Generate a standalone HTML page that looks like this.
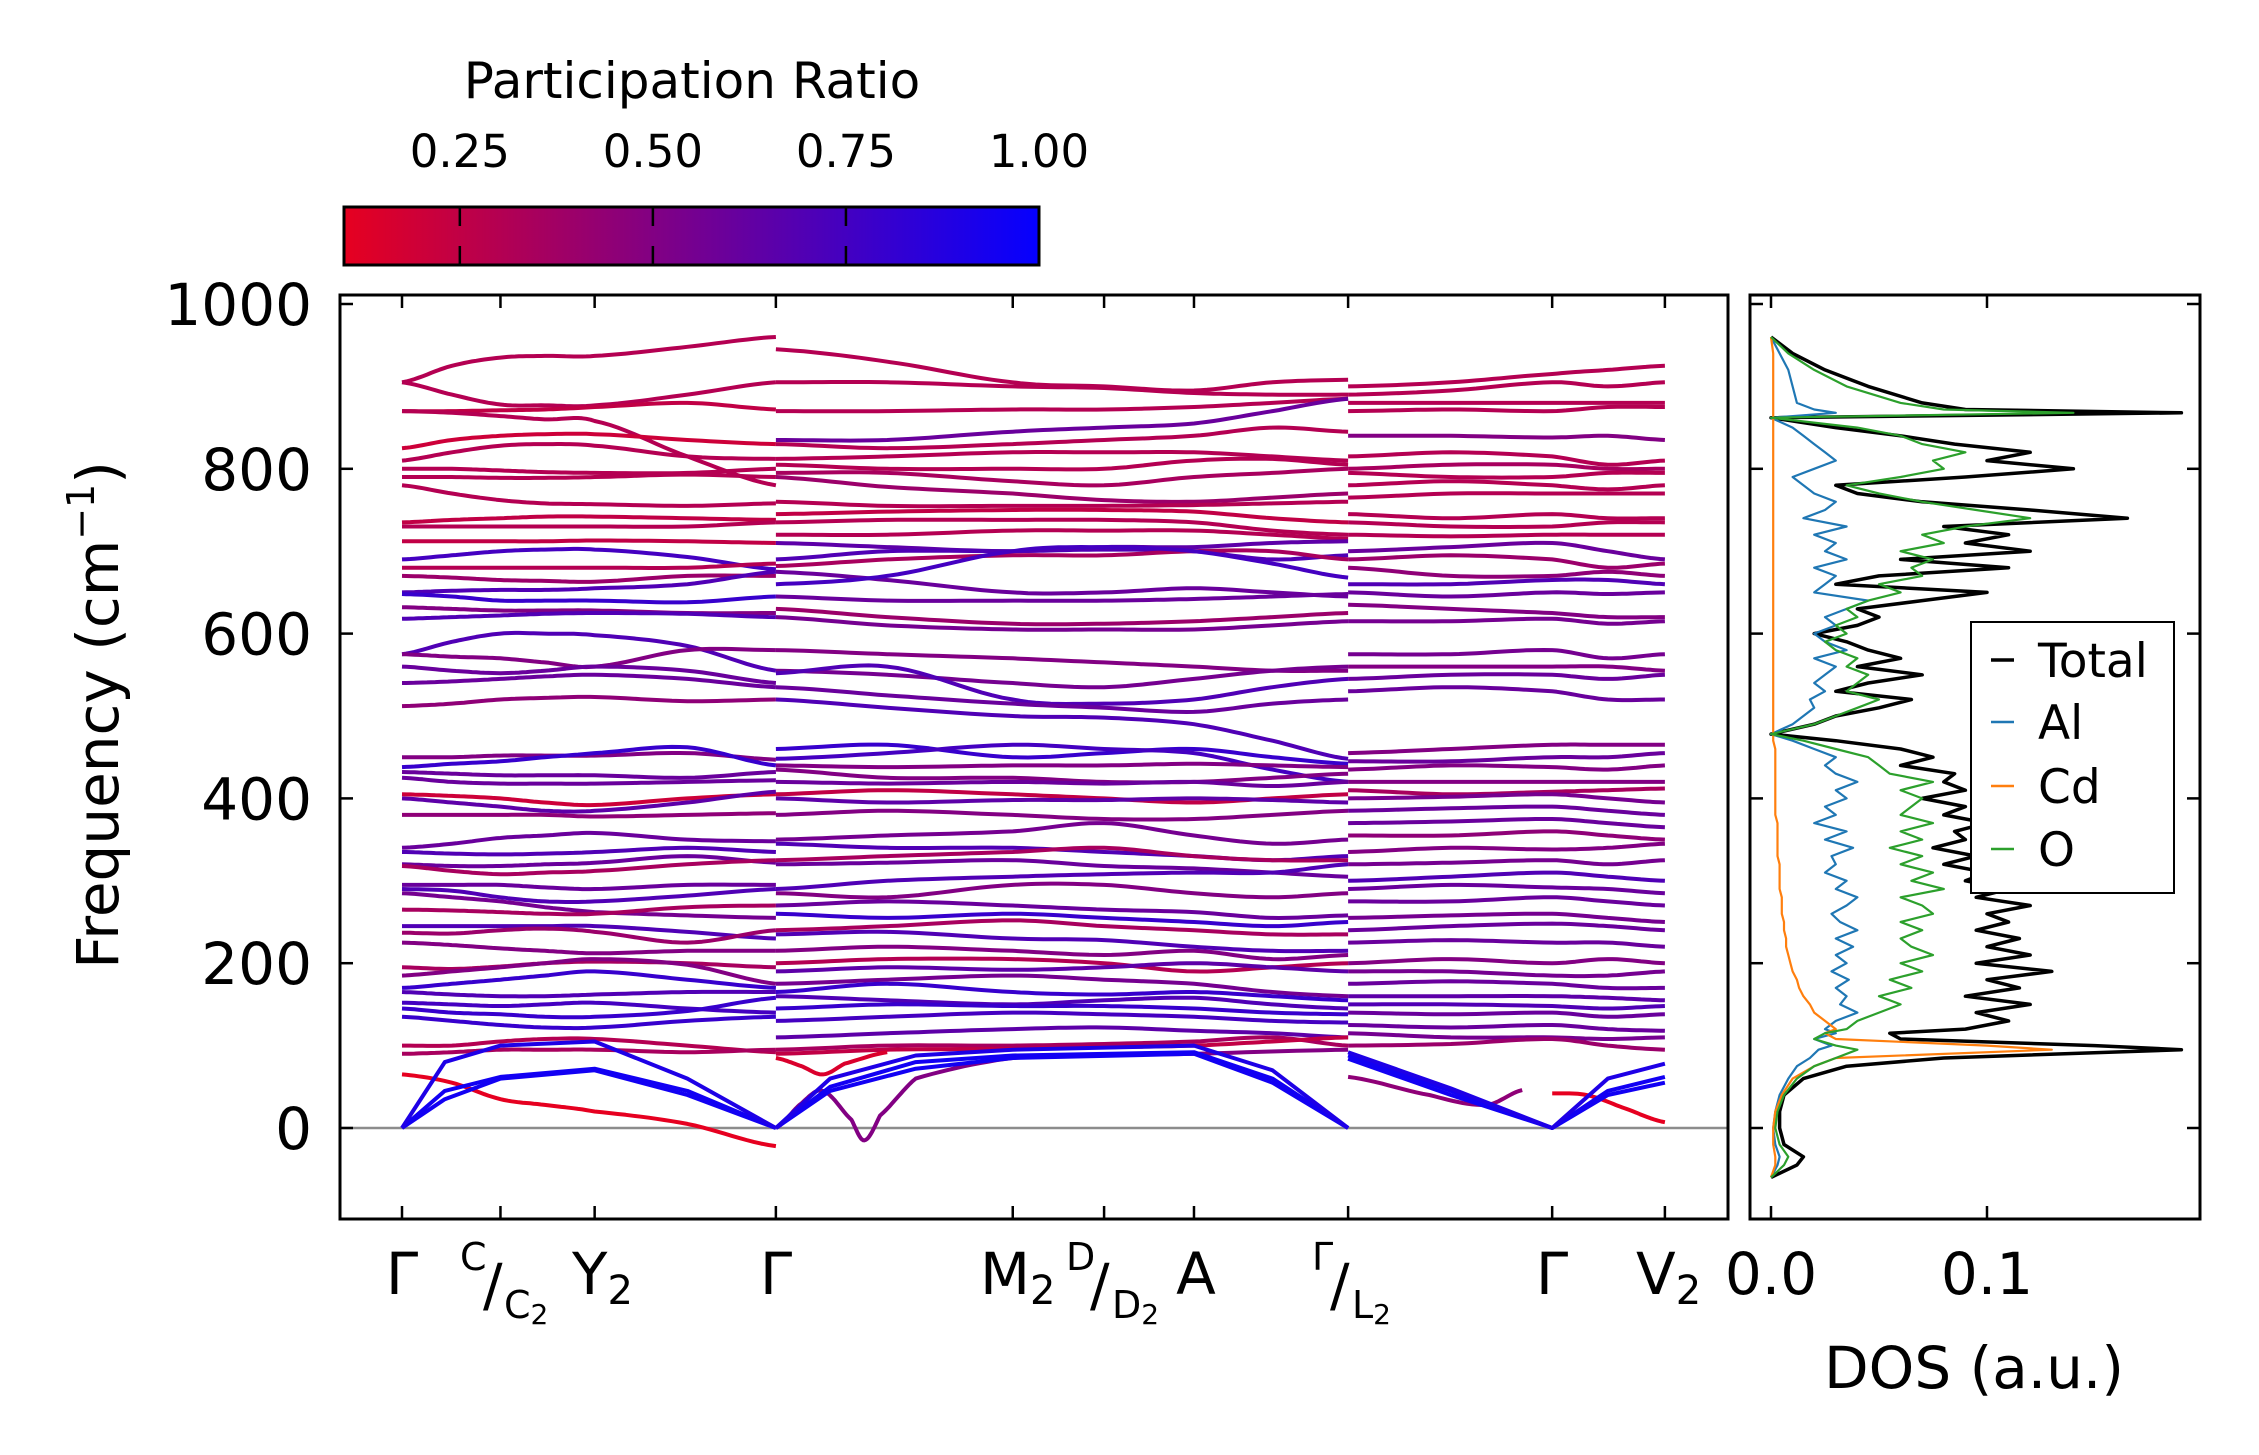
<!DOCTYPE html>
<html><head><meta charset="utf-8">
<style>
html,body{margin:0;padding:0;background:#fff;}
svg{display:block;font-family:"DejaVu Sans","Liberation Sans",sans-serif;}
</style></head>
<body>
<svg id="fig" width="2259" height="1455" viewBox="0 0 2259 1455" xmlns="http://www.w3.org/2000/svg" style="position:absolute;left:0;top:0">
<defs>
<linearGradient id="cbgrad" x1="0" x2="1" y1="0" y2="0">
<stop offset="0" stop-color="rgb(230,0,32)"/>
<stop offset="1" stop-color="rgb(5,0,255)"/>
</linearGradient>
<clipPath id="mainclip"><rect x="340" y="295" width="1388" height="924"/></clipPath>
<clipPath id="dosclip"><rect x="1750" y="295" width="450" height="924"/></clipPath>
</defs>
<rect x="0" y="0" width="2259" height="1455" fill="#fff"/>
<g id="colorbar">
<text x="692" y="98" font-size="50" text-anchor="middle">Participation Ratio</text>
<rect x="344" y="207" width="695" height="58" fill="url(#cbgrad)" stroke="#000" stroke-width="3"/>
</g>
<g id="bands" clip-path="url(#mainclip)"></g>
<g id="dos" clip-path="url(#dosclip)"></g>
<g id="axes"></g>
</svg>
<script>
// ---- colorbar data ----
const cbTicks = [0.25, 0.50, 0.75, 1.00];
const cbLabels = ["0.25", "0.50", "0.75", "1.00"];
// ---- main axis data ----
const yTicks = [0, 200, 400, 600, 800, 1000];
const kTickPos = [0, 0.69, 1.35, 2.62, 4.28, 4.92, 5.55, 6.63, 8.06, 8.85];
const seg1K = [0, 0.35, 0.69, 1.0, 1.35, 2.0, 2.62];
const seg2K = [2.62, 3.4, 4.28, 4.92, 5.55, 6.1, 6.63];
const seg3K = [6.63, 7.35, 8.06, 8.45, 8.85];
const seg1Freq = [
[905,925,935,937,937,948,960],[905,890,878,877,877,890,905],[870,870,871,872,875,880,872],
[870,868,864,860,858,815,780],[825,835,840,842,842,835,830],[810,820,828,830,828,815,812],
[800,800,798,796,795,795,800],[790,790,789,789,790,793,790],[780,770,762,758,757,755,758],
[735,738,740,742,742,740,738],[730,730,730,730,730,730,735],[712,712,712,712,713,712,710],
[690,695,700,702,702,693,678],[680,680,680,680,680,680,685],[670,668,665,664,663,670,670],
[650,652,653,653,655,660,675],[648,645,640,640,640,638,645],[632,630,628,628,628,625,625],
[618,620,622,624,625,624,620],[575,590,600,600,598,585,555],[575,572,570,565,560,580,580],
[560,555,552,555,560,555,540],[540,542,545,548,550,545,535],[512,515,520,522,523,518,520],
[450,450,452,452,452,455,447],[438,442,445,450,455,462,440],[432,430,428,428,428,425,432],
[425,420,418,418,418,420,422],[405,403,400,395,392,400,405],[400,395,390,385,385,395,408],
[380,380,380,380,378,380,382],[340,345,352,355,358,350,348],[335,333,332,333,335,340,335],
[320,318,318,320,322,330,322],[318,312,308,310,312,320,325],[295,295,295,292,290,295,295],
[290,288,280,275,275,282,290],[285,280,275,268,262,258,255],[265,264,262,260,260,268,270],
[245,245,245,245,245,238,230],[237,236,240,242,238,225,240],[225,222,218,215,212,215,215],
[195,193,196,200,202,200,195],[185,190,195,200,205,198,175],[170,175,180,185,190,180,170],
[165,162,160,160,162,165,165],[152,150,148,150,152,145,140],[145,140,138,135,135,142,158],
[135,130,125,122,122,130,135],[100,100,105,108,108,100,92],[90,92,95,95,95,92,95],
[65,55,35,28,20,5,-22]];
const seg1PR = [0.3,0.3,0.25,0.3,0.2,0.3,0.3,0.3,0.3,0.25,0.3,0.25,0.75,0.3,0.4,0.7,0.8,0.5,0.7,0.7,0.5,0.6,0.6,0.45,
0.5,0.8,0.6,0.6,0.2,0.65,0.45,0.6,0.7,0.6,0.35,0.6,0.7,0.55,0.35,0.7,0.4,0.5,0.35,0.5,0.8,0.7,0.75,0.8,0.8,0.3,0.35,0.1];
const seg2Freq = [
[945,930,905,900,895,905,908],[905,905,900,898,892,890,890],[870,870,872,872,875,880,885],
[835,835,845,850,855,870,885],[830,825,830,835,840,850,845],[812,815,820,820,820,815,810],
[805,800,800,800,810,812,805],[795,795,785,780,790,795,800],[790,778,770,762,760,765,770],
[760,755,755,755,756,758,760],[745,748,750,750,748,740,735],[735,738,738,738,735,725,720],
[720,720,725,725,725,720,715],[710,705,700,705,705,710,712],[690,700,700,702,700,690,695],
[682,690,695,695,700,700,690],[675,665,650,650,655,650,645],[660,670,700,705,700,685,668],
[645,640,640,640,642,645,648],[630,620,612,612,615,620,625],[620,610,605,605,605,610,615],
[580,575,570,565,560,555,555],[555,550,540,535,545,555,560],[552,560,520,515,520,535,545],
[535,525,515,510,505,515,520],[520,510,500,498,490,470,448],[460,465,450,455,460,450,442],
[448,455,465,460,455,435,420],[440,438,440,440,442,440,438],[435,425,425,420,420,425,430],
[420,418,420,418,420,415,420],[405,410,405,400,395,400,405],[400,395,398,398,400,398,395],
[380,385,380,375,375,380,385],[350,355,360,370,355,345,350],[345,340,340,335,330,325,330],
[325,330,335,340,330,325,325],[320,322,325,318,315,310,305],[290,300,305,308,310,310,320],
[285,280,295,295,285,280,285],[270,275,270,265,262,255,258],[260,255,260,255,250,245,250],
[240,245,252,245,240,235,235],[235,238,230,228,220,215,215],[215,220,215,210,215,205,210],
[200,205,205,200,190,195,200],[190,195,192,195,200,195,190],[175,180,185,180,175,165,160],
[165,175,165,162,165,160,155],[160,155,150,155,158,150,145],[145,150,148,148,145,140,138],
[130,135,140,138,135,130,128],[110,115,120,122,118,115,110],[95,100,100,102,105,110,100],
[90,95,96,98,100,105,110]];
const seg2PR = [0.3,0.3,0.3,0.6,0.3,0.3,0.3,0.35,0.4,0.3,0.25,0.3,0.3,0.65,0.7,0.35,0.6,0.75,0.6,0.4,0.55,0.5,0.55,0.7,
0.6,0.7,0.8,0.75,0.5,0.5,0.6,0.25,0.65,0.5,0.55,0.7,0.35,0.6,0.7,0.5,0.6,0.8,0.35,0.7,0.5,0.3,0.65,0.55,0.8,0.7,0.8,0.75,0.65,0.35,0.25];
const seg3Freq = [
[900,905,915,920,925],[890,895,905,900,905],[880,880,880,880,880],[870,872,870,875,875],
[840,840,838,840,835],[815,820,815,805,810],[800,805,805,800,800],[795,790,790,795,795],
[780,785,780,775,780],[765,770,770,770,770],[745,740,745,740,740],[735,730,730,735,735],
[720,718,720,720,720],[700,705,710,700,690],[690,695,690,680,685],[680,670,670,675,670],
[660,660,665,665,660],[650,645,650,648,650],[635,630,625,620,620],[615,615,618,612,615],
[575,575,580,570,575],[560,560,560,560,555],[545,550,550,545,550],[530,535,530,520,520],
[455,460,465,465,465],[445,445,450,450,455],[435,440,438,435,440],[420,420,420,420,420],
[410,405,408,410,412],[400,402,405,400,395],[385,388,390,385,380],[370,372,375,370,365],
[355,355,360,355,350],[335,340,338,340,345],[320,322,325,320,325],[300,305,310,305,300],
[290,295,292,290,285],[275,275,280,275,270],[255,258,260,255,250],[240,245,248,245,240],
[225,228,225,225,220],[200,205,200,205,200],[190,190,185,185,190],[175,178,175,170,170],
[160,160,160,158,155],[150,150,148,145,148],[140,138,140,135,138],[125,122,125,120,118],
[115,110,110,108,110],[100,102,108,100,95]];
const seg3PR = [0.3,0.3,0.3,0.3,0.5,0.3,0.35,0.3,0.3,0.3,0.3,0.3,0.3,0.6,0.4,0.45,0.7,0.6,0.5,0.55,0.55,0.5,0.6,0.6,
0.5,0.6,0.5,0.5,0.35,0.55,0.6,0.6,0.45,0.5,0.55,0.7,0.6,0.6,0.55,0.6,0.6,0.5,0.55,0.6,0.65,0.7,0.6,0.6,0.55,0.4];
// acoustic branches (near-linear, drawn with straight segments)
const ac1K = [0, 0.3, 0.69, 1.35, 2.0, 2.62];
const ac1Freq = [[0,45,62,72,45,0],[0,35,60,70,40,0],[0,80,100,105,60,0]];
const ac2K = [2.62, 3.0, 3.6, 4.28, 5.55, 6.1, 6.63];
const ac2Freq = [[0,50,80,88,92,60,0],[0,45,72,85,90,55,0],[0,60,88,95,100,70,0]];
const ac3K = [6.63, 7.35, 8.06, 8.45, 8.85];
const ac3Freq = [[88,45,0,45,62],[84,40,0,40,55],[92,48,0,60,78]];
const acPR = [0.95, 0.95, 0.9];
// special bands with their own k knots
const dipK = [2.62,2.8,2.95,3.15,3.24,3.35,3.6,4.28,5.55,6.63];
const dipFreq = [0,30,45,10,-15,15,60,85,90,95];
const redShortK = [2.62,2.8,2.95,3.1,3.4];
const redShortFreq = [85,75,65,78,92];
const lowLK = [6.63,7.2,7.6,7.85];
const lowLFreq = [62,40,28,46];
const redVK = [8.06,8.3,8.55,8.85];
const redVFreq = [42,40,25,7];
const specialPR = [0.5, 0.15, 0.45, 0.1];
// ---- DOS data ----
const dosFreq = [-60,-45,-35,-20,0,20,40,60,75,85, 95,100,108,115,120,130,140,150,160,170,
180,190,200,210,220,230,240,250,260,270, 280,290,300,310,320,330,340,350,360,370,
380,390,400,410,420,430,440,450,460,470, 478,490,500,510,520,530,540,550,560,570,
580,590,600,610,620,630,640,650,660,670, 680,690,700,710,720,730,740,750,760,770,
780,790,800,810,820,830,840,850,862,868, 872,880,900,920,940,960];
const dosTotal = [0,0.012,0.015,0.006,0.004,0.004,0.006,0.015,0.035,0.08, 0.19,0.15,0.06,0.055,0.09,0.11,0.095,0.12,0.09,0.115,
0.1,0.13,0.095,0.12,0.1,0.115,0.095,0.11,0.1,0.12, 0.095,0.11,0.09,0.1,0.08,0.095,0.075,0.09,0.085,0.1,
0.08,0.09,0.07,0.09,0.08,0.085,0.06,0.075,0.06,0.03, 0.0,0.02,0.03,0.05,0.065,0.03,0.045,0.07,0.04,0.06,
0.045,0.035,0.02,0.04,0.05,0.04,0.07,0.1,0.03,0.05, 0.11,0.06,0.12,0.09,0.11,0.08,0.165,0.12,0.07,0.04,
0.03,0.09,0.14,0.1,0.12,0.085,0.06,0.03,0.0,0.19, 0.09,0.07,0.045,0.025,0.01,0.0];
const dosAl = [0,0.003,0.004,0.002,0.001,0.002,0.004,0.008,0.012,0.018, 0.022,0.028,0.02,0.03,0.025,0.03,0.04,0.032,0.035,0.03,
0.036,0.028,0.035,0.03,0.038,0.03,0.04,0.032,0.028,0.035, 0.04,0.03,0.035,0.025,0.03,0.028,0.038,0.025,0.035,0.02,
0.03,0.025,0.035,0.03,0.04,0.03,0.025,0.03,0.02,0.01, 0.0,0.01,0.015,0.02,0.018,0.025,0.02,0.025,0.03,0.02,
0.035,0.025,0.02,0.03,0.025,0.035,0.045,0.02,0.025,0.03, 0.02,0.035,0.025,0.03,0.02,0.035,0.015,0.025,0.03,0.02,
0.015,0.01,0.02,0.03,0.025,0.02,0.015,0.01,0.0,0.03, 0.02,0.012,0.01,0.008,0.004,0];
const dosCd = [0,0.002,0.002,0.001,0.001,0.002,0.005,0.01,0.02,0.03, 0.13,0.1,0.03,0.025,0.03,0.025,0.02,0.018,0.015,0.013,
0.012,0.01,0.009,0.008,0.007,0.007,0.006,0.006,0.005,0.005, 0.005,0.004,0.004,0.004,0.004,0.003,0.003,0.003,0.003,0.003,
0.002,0.002,0.002,0.002,0.002,0.002,0.002,0.002,0.002,0.001, 0.001,0.001,0.001,0.001,0.001,0.001,0.001,0.001,0.001,0.001,
0.001,0.001,0.001,0.001,0.001,0.001,0.001,0.001,0.001,0.001, 0.001,0.001,0.001,0.001,0.001,0.001,0.001,0.001,0.001,0.001,
0.001,0.001,0.001,0.001,0.001,0.001,0.001,0.001,0.001,0.001, 0.001,0.001,0.001,0.001,0.001,0];
const dosO = [0,0.006,0.008,0.004,0.002,0.003,0.006,0.012,0.02,0.03, 0.04,0.03,0.02,0.025,0.035,0.04,0.05,0.06,0.05,0.065,
0.055,0.07,0.06,0.075,0.065,0.06,0.07,0.06,0.075,0.07, 0.06,0.08,0.065,0.075,0.06,0.07,0.055,0.07,0.06,0.075,
0.06,0.065,0.07,0.06,0.075,0.055,0.05,0.045,0.03,0.015, 0.0,0.02,0.03,0.04,0.05,0.035,0.04,0.045,0.035,0.04,
0.03,0.025,0.035,0.03,0.04,0.035,0.045,0.06,0.05,0.07, 0.065,0.075,0.06,0.08,0.07,0.09,0.12,0.095,0.07,0.05,
0.035,0.06,0.08,0.075,0.09,0.07,0.06,0.04,0.0,0.14, 0.08,0.06,0.035,0.02,0.008,0];
const dosTicks = [0.0, 0.1];
const dosTickLabels = ["0.0", "0.1"];

const NS = "http://www.w3.org/2000/svg";
const yOf = f => 1128 - f * 0.824;
const xOf = k => 402 + k * 142.7;
const dxOf = d => 1771 + d * 2160;
const cbX = v => 344 + (v - 0.1) / 0.9 * 695;
function prColor(p){
  const t = Math.max(0, Math.min(1, (p - 0.1) / 0.9));
  const r = Math.round(230 + (5 - 230) * t), b = Math.round(32 + (255 - 32) * t);
  return `rgb(${r},0,${b})`;
}
function mk(tag, attrs, parent){
  const e = document.createElementNS(NS, tag);
  for (const k in attrs) e.setAttribute(k, attrs[k]);
  parent.appendChild(e); return e;
}
function smoothPath(ks, fs){
  const n = ks.length; let d = `M${xOf(ks[0]).toFixed(1)},${yOf(fs[0]).toFixed(1)}`;
  for (let i = 0; i < n - 1; i++){
    const p0 = fs[Math.max(0, i - 1)], p1 = fs[i], p2 = fs[i + 1], p3 = fs[Math.min(n - 1, i + 2)];
    for (let s = 1; s <= 12; s++){
      const t = s / 12;
      const f = 0.5 * ((2 * p1) + (-p0 + p2) * t + (2 * p0 - 5 * p1 + 4 * p2 - p3) * t * t + (-p0 + 3 * p1 - 3 * p2 + p3) * t * t * t);
      const k = ks[i] + (ks[i + 1] - ks[i]) * t;
      d += ` L${xOf(k).toFixed(1)},${yOf(f).toFixed(1)}`;
    }
  }
  return d;
}
function linePath(ks, fs){
  return ks.map((k, i) => (i ? 'L' : 'M') + xOf(k).toFixed(1) + ',' + yOf(fs[i]).toFixed(1)).join(' ');
}
const bandsG = document.getElementById('bands');
const zl = mk('line', {x1:340, x2:1728, y1:yOf(0), y2:yOf(0), stroke:'#8c8c8c', 'stroke-width':2.5}, bandsG);


function drawSeg(ks, freqs, prs, label, linear){
  freqs.forEach((fs, i) => {
    const p = mk('path', {d: linear ? linePath(ks, fs) : smoothPath(ks, fs), fill:'none', stroke: prColor(prs[i]), 'stroke-width':4, 'stroke-linejoin':'round'}, bandsG);
    
    
  });
}
drawSeg(seg1K, seg1Freq, seg1PR, 'segment1');
drawSeg(seg2K, seg2Freq, seg2PR, 'segment2');
drawSeg(seg3K, seg3Freq, seg3PR, 'segment3');
drawSeg(dipK, [dipFreq], [specialPR[0]], 'dip');
drawSeg(redShortK, [redShortFreq], [specialPR[1]], 'red-short');
drawSeg(lowLK, [lowLFreq], [specialPR[2]], 'low-l');
drawSeg(redVK, [redVFreq], [specialPR[3]], 'red-v');
drawSeg(ac1K, ac1Freq, acPR, 'acoustic1', true);
drawSeg(ac2K, ac2Freq, acPR, 'acoustic2', true);
drawSeg(ac3K, ac3Freq, acPR, 'acoustic3', true);

const dosG = document.getElementById('dos');
function dosLine(vals, color, w, name){
  let d = '';
  vals.forEach((v, i) => { d += (i ? ' L' : 'M') + dxOf(v).toFixed(1) + ',' + yOf(dosFreq[i]).toFixed(1); });
  const p = mk('path', {d, fill:'none', stroke:color, 'stroke-width':w, 'stroke-linejoin':'round'}, dosG);
  
  
}
dosLine(dosTotal, '#000', 3.5, 'dos-total-line');
dosLine(dosAl, '#1f77b4', 2.2, 'dos-al-line');
dosLine(dosCd, '#ff7f0e', 2.2, 'dos-cd-line');
dosLine(dosO, '#2ca02c', 2.2, 'dos-o-line');

const ax = document.getElementById('axes');
const mainFrame = mk('rect', {x:340, y:295, width:1388, height:924, fill:'none', stroke:'#000', 'stroke-width':3}, ax);


const dosFrame = mk('rect', {x:1750, y:295, width:450, height:924, fill:'none', stroke:'#000', 'stroke-width':3}, ax);


const TL = 13;
yTicks.forEach(v => {
  const y = yOf(v);
  mk('line', {x1:340, x2:340 + TL, y1:y, y2:y, stroke:'#000', 'stroke-width':2.5}, ax);
  mk('line', {x1:1750, x2:1750 + TL, y1:y, y2:y, stroke:'#000', 'stroke-width':2.5}, ax);
  mk('line', {x1:2200 - TL, x2:2200, y1:y, y2:y, stroke:'#000', 'stroke-width':2.5}, ax);
  const t = mk('text', {x:312, y:y + 21, 'font-size':58, 'text-anchor':'end'}, ax);
  t.textContent = String(v);
  
  
});
kTickPos.forEach(k => {
  const x = xOf(k);
  mk('line', {x1:x, x2:x, y1:1219, y2:1219 - TL, stroke:'#000', 'stroke-width':2.5}, ax);
  mk('line', {x1:x, x2:x, y1:295, y2:295 + TL, stroke:'#000', 'stroke-width':2.5}, ax);
});
dosTicks.forEach((v, i) => {
  const x = dxOf(v);
  mk('line', {x1:x, x2:x, y1:1219, y2:1219 - TL, stroke:'#000', 'stroke-width':2.5}, ax);
  mk('line', {x1:x, x2:x, y1:295, y2:295 + TL, stroke:'#000', 'stroke-width':2.5}, ax);
  const t = mk('text', {x:x, y:1294, 'font-size':58, 'text-anchor':'middle'}, ax);
  t.textContent = dosTickLabels[i];
  
  
});
const cbG = document.getElementById('colorbar');
cbTicks.forEach((v, i) => {
  const x = cbX(v);
  if (v < 1) mk('line', {x1:x, x2:x, y1:207, y2:265, stroke:'#000', 'stroke-width':2.5, 'stroke-dasharray':'19 20'}, cbG);
  const t = mk('text', {x:x, y:167, 'font-size':45, 'text-anchor':'middle'}, cbG);
  t.textContent = cbLabels[i];
  
  
});
</script>
<svg style="position:absolute;left:0;top:0" width="2259" height="1455" font-family="DejaVu Sans, Liberation Sans, sans-serif">
<text transform="translate(118,715) rotate(-90)" font-size="58" text-anchor="middle">Frequency (cm<tspan font-size="38" dy="-24">−1</tspan><tspan dy="24">)</tspan></text>
<g font-size="58">
<text x="402" y="1294" text-anchor="middle">Γ</text>
<text x="460" y="1270" font-size="38">C</text>
<text x="483" y="1305">/</text>
<text x="504" y="1318" font-size="38">C<tspan font-size="28" dy="6">2</tspan></text>
<text x="572" y="1294">Y<tspan font-size="40" dy="10">2</tspan></text>
<text x="776" y="1294" text-anchor="middle">Γ</text>
<text x="980" y="1294">M<tspan font-size="40" dy="10">2</tspan></text>
<text x="1066" y="1270" font-size="38">D</text>
<text x="1090" y="1305">/</text>
<text x="1112" y="1318" font-size="38">D<tspan font-size="28" dy="6">2</tspan></text>
<text x="1196" y="1294" text-anchor="middle">A</text>
<text x="1312" y="1270" font-size="38">Γ</text>
<text x="1330" y="1305">/</text>
<text x="1352" y="1318" font-size="38">L<tspan font-size="28" dy="6">2</tspan></text>
<text x="1552" y="1294" text-anchor="middle">Γ</text>
<text x="1636" y="1294">V<tspan font-size="40" dy="10">2</tspan></text>
</g>
<text x="1974" y="1388" font-size="58" text-anchor="middle">DOS (a.u.)</text>
<g>
<rect x="1971" y="622" width="203" height="271" fill="#fff" stroke="#000" stroke-width="2"/>
<line x1="1991" x2="2014" y1="660" y2="660" stroke="#000" stroke-width="3.5"/>
<text x="2038" y="677" font-size="47">Total</text>
<line x1="1991" x2="2014" y1="722" y2="722" stroke="#1f77b4" stroke-width="2.5"/>
<text x="2038" y="739" font-size="47">Al</text>
<line x1="1991" x2="2014" y1="786" y2="786" stroke="#ff7f0e" stroke-width="2.5"/>
<text x="2038" y="803" font-size="47">Cd</text>
<line x1="1991" x2="2014" y1="849" y2="849" stroke="#2ca02c" stroke-width="2.5"/>
<text x="2038" y="866" font-size="47">O</text>
</g>
</svg>
</body></html>
